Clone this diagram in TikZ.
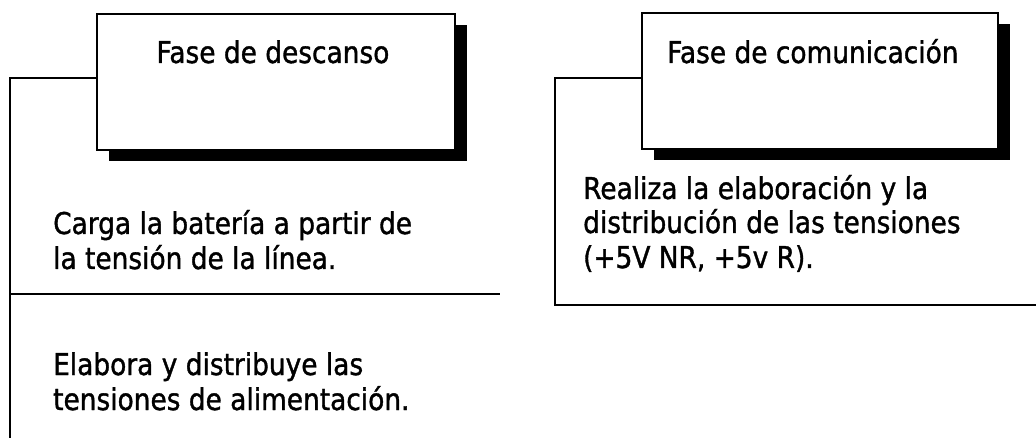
\documentclass[tikz,border=0pt]{standalone}
\usepackage{fontspec}
\setmainfont{DejaVu Sans}[FakeStretch=0.88,FakeBold=1.2]
\usetikzlibrary{shadows}
\begin{document}
\begin{tikzpicture}[x=1pt,y=-1pt,
  phase/.style={draw=black, line width=1.4pt, fill=white, minimum width=358pt,
    minimum height=136pt, inner sep=0pt,
    drop shadow={shadow xshift=12pt, shadow yshift=-11pt, fill=black, opacity=1}},
  link/.style={draw=black, line width=1.3pt},
  txt/.style={anchor=base west, inner sep=0pt, font=\fontsize{30}{36}\selectfont}]
\fill[white] (0,0) rectangle (1036,438);
\useasboundingbox (0,0) rectangle (1036,438);
% connectors
\coordinate (lTop) at (10,78);
\coordinate (lBot) at (10,438);
\coordinate (lSep) at (500,294);
\coordinate (rTop) at (555,78);
\coordinate (rBot) at (555,305);
\coordinate (rEnd) at (1036,305);
% boxes
\node[phase] (rest) at (276,82) {};
\node[phase, minimum width=356pt] (comm) at (820,81) {};
\draw[link] (rest.west |- lTop) -- (lTop) -- (lBot);
\draw[link] (lTop |- lSep) -- (lSep);
\draw[link] (comm.west |- rTop) -- (rTop) -- (rBot) -- (rEnd);
% titles
\node[txt, anchor=base] (restT) at (273,63) {Fase de descanso};
\node[txt] (commT) at (667,63) {Fase de comunicación};
% texts
\node[txt] (a1) at (53,234) {Carga la batería a partir de};
\node[txt] (a2) at (53,269) {la tensión de la línea.};
\node[txt] (b1) at (53,375) {Elabora y distribuye las};
\node[txt] (b2) at (53,410) {tensiones de alimentación.};
\node[txt] (c1) at (583,199) {Realiza la elaboración y la};
\node[txt] (c2) at (583,233) {distribución de las tensiones};
\node[txt] (c3) at (583,268) {(+5V NR, +5v R).};
\end{tikzpicture}
\end{document}
